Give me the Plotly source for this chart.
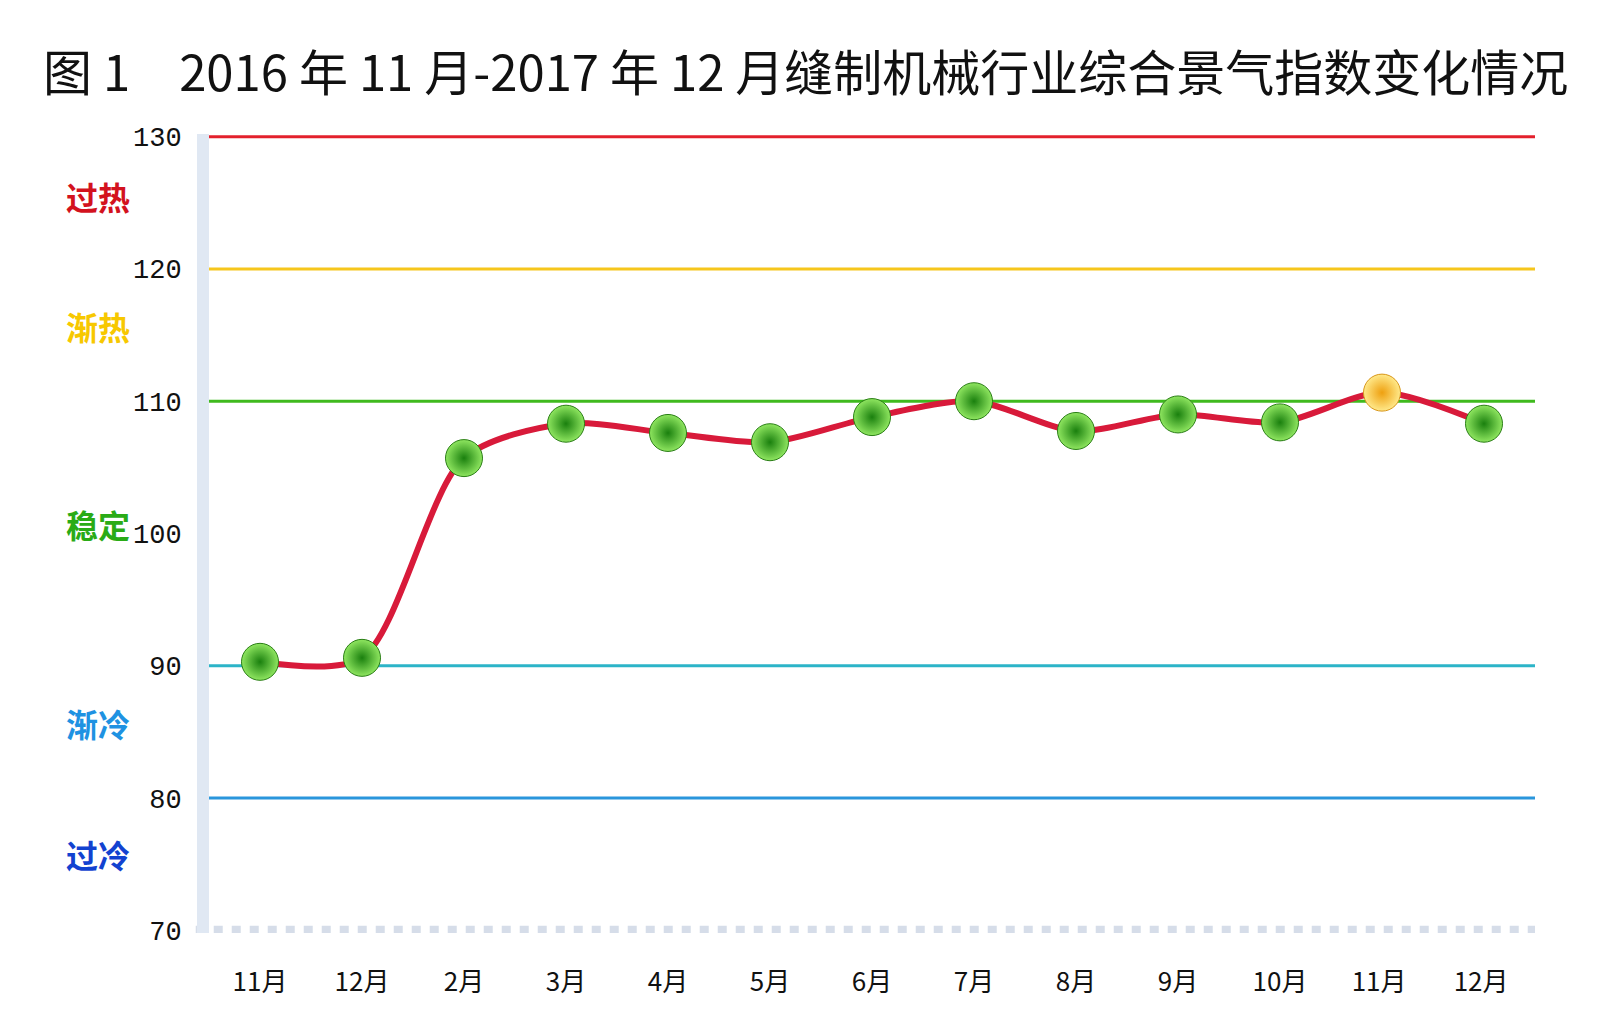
import plotly.graph_objects as go

months = ["11月", "12月", "2月", "3月", "4月", "5月", "6月", "7月", "8月", "9月", "10月", "11月 ", "12月 "]
index_values = [90.3, 90.6, 105.7, 108.3, 107.6, 106.9, 108.8, 110.0, 107.75, 109.0, 108.4, 110.65, 108.3]
point_colors = ["green"] * 11 + ["yellow"] + ["green"]

zone_lines = [130, 120, 110, 90, 80]
zone_line_colors = ["#e3202c", "#f6c61c", "#3fba1e", "#2cb4c8", "#2a96dc"]
zone_names = ["过热", "渐热", "稳定", "渐冷", "过冷"]
zone_label_y = [125.5, 115.7, 100.7, 85.7, 75.8]
zone_label_colors = ["#d3121e", "#f7c800", "#2aab16", "#1e92e2", "#1242d0"]

y_ticks = [130, 120, 110, 100, 90, 80, 70]

title_text = "图 1\u30002016 年 11 月-2017 年 12 月缝制机械行业综合景气指数变化情况"

fig = go.Figure()

for yv, c in zip(zone_lines, zone_line_colors):
    fig.add_shape(type="line", xref="paper", x0=0, x1=1, yref="y", y0=yv, y1=yv,
                  line=dict(color=c, width=3), layer="below")
fig.add_shape(type="line", xref="paper", x0=-0.01, x1=1, yref="y", y0=70, y1=70,
              line=dict(color="#d6dde9", width=9, dash="dot"), layer="below")

fig.add_trace(go.Scatter(
    x=months, y=index_values, mode="lines",
    line=dict(color="#d81a3a", width=6, shape="spline", smoothing=0.8),
    hoverinfo="skip", showlegend=False))

green_x = [m for m, c in zip(months, point_colors) if c == "green"]
green_y = [v for v, c in zip(index_values, point_colors) if c == "green"]
yel_x = [m for m, c in zip(months, point_colors) if c == "yellow"]
yel_y = [v for v, c in zip(index_values, point_colors) if c == "yellow"]

fig.add_trace(go.Scatter(
    x=green_x, y=green_y, mode="markers",
    marker=dict(size=37, color="#8fe660", gradient=dict(type="radial", color="#1a800e"),
                line=dict(color="#2a7e16", width=1)),
    showlegend=False))
fig.add_trace(go.Scatter(
    x=yel_x, y=yel_y, mode="markers",
    marker=dict(size=37, color="#ffe98a", gradient=dict(type="radial", color="#eea010"),
                line=dict(color="#d8961a", width=1)),
    showlegend=False))

for name, yv, c in zip(zone_names, zone_label_y, zone_label_colors):
    fig.add_annotation(text="<b>" + name + "</b>", xref="paper", x=-0.084, yref="y", y=yv,
                       showarrow=False, xanchor="center", yanchor="middle",
                       font=dict(family="Noto Sans CJK SC", size=32, color=c))

fig.update_layout(
    width=1600, height=1032,
    margin=dict(l=201, r=73, t=126, b=107),
    paper_bgcolor="white", plot_bgcolor="white",
    title=dict(text=title_text, x=35 / 1600, xanchor="left", xref="container",
               y=1 - 66 / 1032, yanchor="middle", yref="container",
               font=dict(family="Noto Sans CJK SC", size=49, color="#111111")),
    xaxis=dict(type="category", range=[-0.5, len(months) - 0.5], showgrid=False, zeroline=False,
               showline=False, ticks="outside", ticklen=26, tickcolor="rgba(0,0,0,0)",
               tickfont=dict(family="Noto Sans CJK SC", size=26, color="#111111")),
    yaxis=dict(range=[69.8, 130.2], tickvals=y_ticks, showgrid=False, zeroline=False,
               showline=True, linecolor="#e0e8f3", linewidth=12,
               ticks="outside", ticklen=10, tickcolor="rgba(0,0,0,0)",
               tickfont=dict(family="Liberation Mono", size=27, color="#111111")),
)

fig.write_html("out.html")
